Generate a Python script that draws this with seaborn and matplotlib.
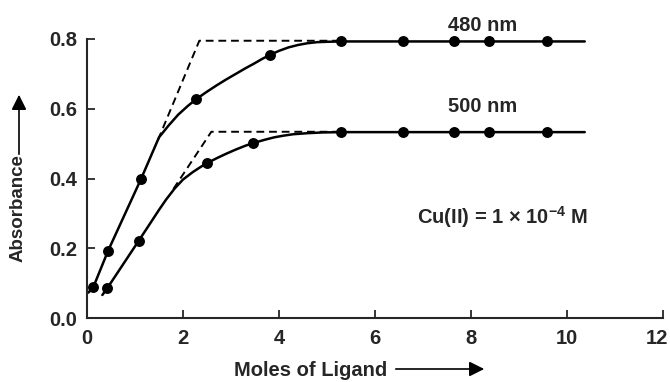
import matplotlib
matplotlib.use("Agg")
import matplotlib.pyplot as plt
import matplotlib.transforms as mtransforms
import seaborn as sns

# Measured points
x_480 = [0.13, 0.44, 1.13, 2.27, 3.82, 5.30, 6.58, 7.65, 8.38, 9.58]
y_480 = [0.088, 0.193, 0.400, 0.627, 0.755, 0.793, 0.793, 0.793, 0.793, 0.793]
x_500 = [0.42, 1.08, 2.50, 3.45, 5.30, 6.58, 7.65, 8.38, 9.58]
y_500 = [0.085, 0.222, 0.444, 0.501, 0.533, 0.533, 0.533, 0.533, 0.533]

# Fitted curves
curve_480_x = [0.03, 0.13, 0.44, 1.13, 1.50, 1.70, 1.90, 2.10, 2.27, 2.50, 2.70, 2.90,
               3.10, 3.30, 3.50, 3.65, 3.82, 4.00, 4.20, 4.40, 4.60, 4.80, 5.00, 5.30, 10.37]
curve_480_y = [0.073, 0.088, 0.193, 0.400, 0.518, 0.552, 0.583, 0.608, 0.627, 0.649, 0.667,
               0.684, 0.700, 0.716, 0.731, 0.743, 0.755, 0.766, 0.776, 0.783, 0.788, 0.791,
               0.792, 0.793, 0.793]
curve_500_x = [0.32, 0.42, 1.08, 1.30, 1.50, 1.65, 1.83, 2.00, 2.20, 2.40, 2.50, 2.70, 2.90,
               3.10, 3.30, 3.45, 3.70, 3.90, 4.10, 4.30, 4.60, 4.90, 5.30, 10.37]
curve_500_y = [0.066, 0.085, 0.222, 0.268, 0.310, 0.340, 0.372, 0.397, 0.418, 0.436, 0.444,
               0.458, 0.471, 0.483, 0.494, 0.501, 0.511, 0.518, 0.523, 0.527, 0.530, 0.532,
               0.533, 0.533]

# Tangent (dashed) construction lines
dash_480_x = [1.48, 2.34, 5.30]
dash_480_y = [0.511, 0.795, 0.795]
dash_500_x = [1.80, 2.59, 5.30]
dash_500_y = [0.370, 0.534, 0.534]

x_ticks = [0, 2, 4, 6, 8, 10, 12]
y_ticks = [0.0, 0.2, 0.4, 0.6, 0.8]

sns.set_style("ticks")
plt.rcParams["font.family"] = ["Liberation Sans", "DejaVu Sans"]
plt.rcParams["mathtext.fontset"] = "custom"
plt.rcParams["mathtext.rm"] = "Liberation Sans:bold"
plt.rcParams["mathtext.it"] = "Liberation Sans:bold"
plt.rcParams["mathtext.bf"] = "Liberation Sans:bold"
plt.rcParams["mathtext.default"] = "rm"

FS = 14.5

fig = plt.figure(figsize=(6.7, 3.82), dpi=100)
ax = fig.add_axes([87 / 670, 1 - 318 / 382, (663 - 87) / 670, (318 - 39) / 382])

for cx, cy in [(curve_480_x, curve_480_y), (curve_500_x, curve_500_y)]:
    sns.lineplot(x=cx, y=cy, ax=ax, color="black", lw=1.8, sort=False,
                 estimator=None, clip_on=False)
for dx, dy in [(dash_480_x, dash_480_y), (dash_500_x, dash_500_y)]:
    sns.lineplot(x=dx, y=dy, ax=ax, color="black", lw=1.4, sort=False,
                 estimator=None, linestyle=(0, (4, 2.5)), clip_on=False)
for px, py in [(x_480, y_480), (x_500, y_500)]:
    sns.scatterplot(x=px, y=py, ax=ax, color="black", s=62, edgecolor="black",
                    linewidth=0, clip_on=False, zorder=5)

ax.set_xlim(0, 12)
ax.set_ylim(0, 0.8)
ax.set_xticks(x_ticks)
ax.set_yticks(y_ticks)
ax.set_xticklabels([str(t) for t in x_ticks])
ax.set_yticklabels([f"{t:.1f}" for t in y_ticks])
ax.tick_params(direction="in", length=6, width=1.3, labelsize=FS)
ax.tick_params(axis="y", pad=7)
ax.tick_params(axis="x", pad=8)
for lab in ax.get_xticklabels() + ax.get_yticklabels():
    lab.set_fontweight("bold")
# keep the last x tick label inside the figure edge
last = ax.get_xticklabels()[-1]
last.set_transform(last.get_transform() +
                   mtransforms.ScaledTranslation(-6 / 100, 0, fig.dpi_scale_trans))
sns.despine(ax=ax)
for sp in ["left", "bottom"]:
    ax.spines[sp].set_linewidth(1.5)
ax.set_xlabel("")
ax.set_ylabel("")

ax.text(8.25, 0.84, "480 nm", ha="center", va="center", fontsize=FS, fontweight="bold")
ax.text(8.25, 0.607, "500 nm", ha="center", va="center", fontsize=FS, fontweight="bold")
ax.text(8.65, 0.29, "Cu(II) = 1 \u00d7 10$^{-4}$ M", ha="center", va="center",
        fontsize=FS, fontweight="bold")

# Axis labels with arrows
fig.text(311 / 670, 1 - 370 / 382, "Moles of Ligand", ha="center", va="center",
         fontsize=FS, fontweight="bold")
fig.add_artist(matplotlib.patches.FancyArrowPatch(
    (393 / 670, 1 - 369 / 382), (487 / 670, 1 - 369 / 382),
    transform=fig.transFigure, arrowstyle="-|>,head_length=9,head_width=4.5",
    color="black", lw=1.2, mutation_scale=1))
fig.text(18 / 670, 1 - 208 / 382, "Absorbance", ha="center", va="center",
         rotation=90, fontsize=13.5, fontweight="bold")
fig.add_artist(matplotlib.patches.FancyArrowPatch(
    (19 / 670, 1 - 157 / 382), (19 / 670, 1 - 92 / 382),
    transform=fig.transFigure, arrowstyle="-|>,head_length=9,head_width=4.5",
    color="black", lw=1.2, mutation_scale=1))

fig.savefig("out.png", dpi=100)
